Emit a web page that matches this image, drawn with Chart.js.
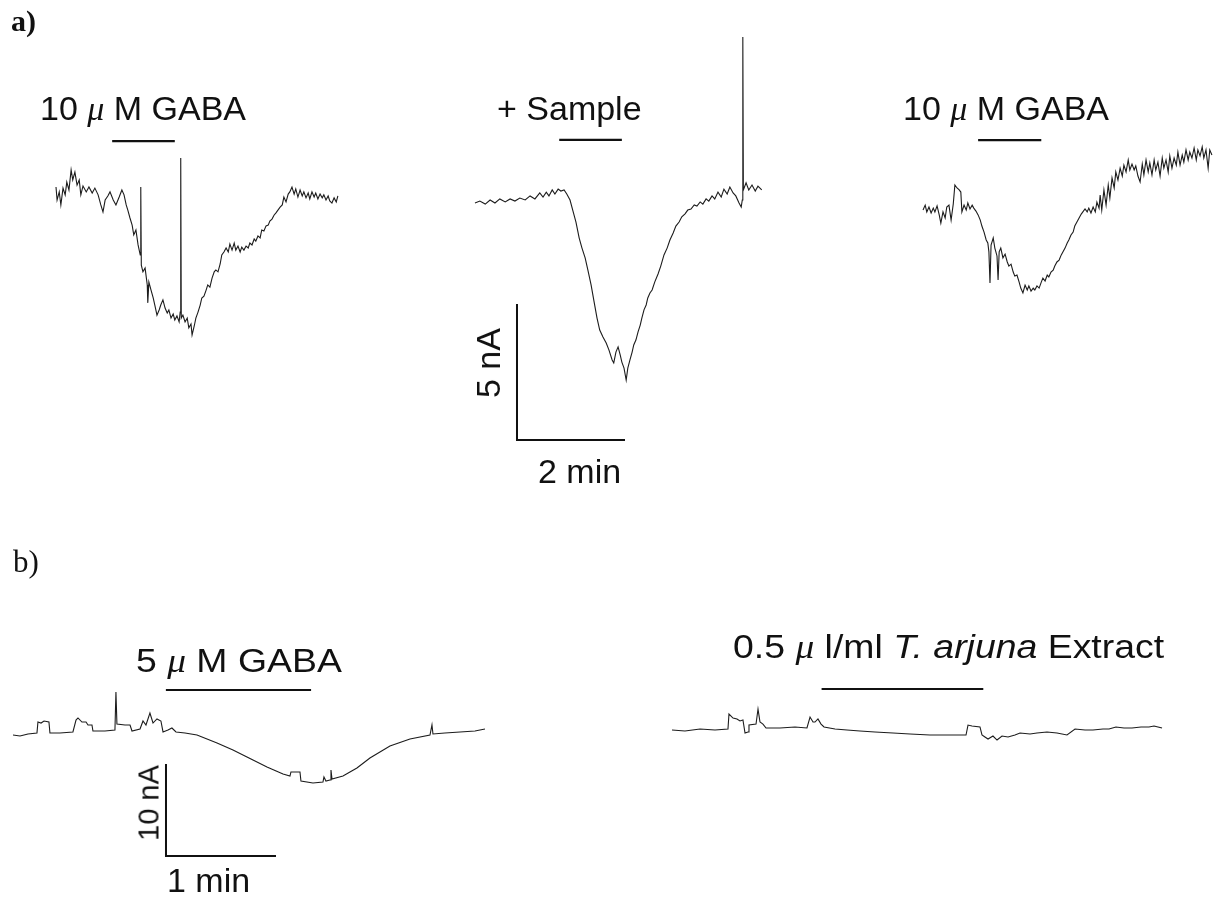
<!DOCTYPE html>
<html>
<head>
<meta charset="utf-8">
<script src="https://cdn.jsdelivr.net/npm/chart.js@4.4.1/dist/chart.umd.min.js"></script>
<style>
  body { margin: 0; background: #fff; }
  #wrap { position: relative; width: 1224px; height: 897px; }
  #chart { position: absolute; left: 0; top: 0; }
  .lbl { position: absolute; font-family: "Liberation Sans", Arial, sans-serif; font-size: 34px; line-height: 1; white-space: nowrap; color: #111; }
  .wide { transform: scaleX(1.1); transform-origin: left center; }
  .mu { font-family: "Liberation Serif", serif; font-style: italic; }
  .panel { position: absolute; font-family: "Liberation Serif", "Times New Roman", serif; line-height: 1; color: #111; }
  .rot { transform: translate(-50%, -50%) rotate(-90deg); }
</style>
</head>
<body>
<div id="wrap">
  <canvas id="chart" width="1224" height="897"></canvas>
  <div class="panel" style="left:11px;top:6px;font-size:30px;font-weight:bold">a)</div>
  <div class="panel" style="left:13px;top:546px;font-size:31px">b)</div>
  <div class="lbl" style="left:40px;top:91px">10 <span class="mu">μ</span> M GABA</div>
  <div class="lbl" style="left:497px;top:91px">+ Sample</div>
  <div class="lbl" style="left:903px;top:91px">10 <span class="mu">μ</span> M GABA</div>
  <div class="lbl rot" style="left:488px;top:363px">5 nA</div>
  <div class="lbl" style="left:538px;top:454px">2 min</div>
  <div class="lbl wide" style="left:136px;top:643px">5 <span class="mu">μ</span> M GABA</div>
  <div class="lbl wide" style="left:733px;top:629px">0.5 <span class="mu">μ</span> l/ml <i>T. arjuna</i> Extract</div>
  <div class="lbl rot" style="left:149px;top:803px;font-size:29px">10 nA</div>
  <div class="lbl" style="left:167px;top:863px">1 min</div>
</div>
<script>
// recordings: [time from trace start (min), current relative to baseline (nA)]
var gaba10a = [[0,0.11],[0.02,-0.37],[0.06,-0.07],[0.09,-0.55],[0.13,0.07],[0.17,-0.18],[0.20,0.29],[0.24,0],[0.28,0.74],[0.31,0.37],[0.35,0.66],[0.39,0.18],[0.43,0.37],[0.46,-0.18],[0.50,0.15],[0.56,-0.07],[0.61,0.11],[0.67,-0.11],[0.72,0.07],[0.78,-0.18],[0.83,-0.55],[0.87,-0.81],[0.91,-0.37],[0.96,-0.22],[1.00,-0.07],[1.06,-0.37],[1.11,-0.55],[1.17,-0.26],[1.22,0],[1.26,-0.18],[1.30,-0.55],[1.33,-0.74],[1.37,-1.03],[1.41,-1.29],[1.44,-1.65],[1.48,-1.47],[1.52,-2.02],[1.56,-2.39],[1.57,0.11],[1.58,-2.76],[1.61,-3.01],[1.65,-2.87],[1.69,-3.49],[1.70,-4.15],[1.72,-3.38],[1.76,-3.68],[1.80,-3.97],[1.83,-4.23],[1.87,-4.60],[1.91,-4.41],[1.94,-4.23],[1.98,-4.04],[2.02,-4.34],[2.06,-4.52],[2.09,-4.41],[2.13,-4.71],[2.17,-4.56],[2.20,-4.78],[2.24,-4.63],[2.28,-4.85],[2.30,-4.49],[2.31,1.18],[2.32,-4.71],[2.35,-4.60],[2.39,-4.85],[2.43,-4.71],[2.46,-5.07],[2.50,-4.93],[2.52,-5.33],[2.56,-5.00],[2.59,-4.71],[2.63,-4.49],[2.67,-4.23],[2.70,-3.97],[2.74,-3.90],[2.78,-3.68],[2.81,-3.49],[2.85,-3.57],[2.89,-3.24],[2.93,-3.01],[2.96,-2.94],[3.00,-3.01],[3.04,-2.72],[3.07,-2.39],[3.11,-2.28],[3.15,-2.13],[3.19,-2.28],[3.22,-1.99],[3.26,-2.21],[3.30,-1.95],[3.33,-2.21],[3.37,-2.06],[3.41,-2.28],[3.44,-2.10],[3.48,-2.21],[3.52,-2.06],[3.56,-2.13],[3.59,-1.95],[3.63,-2.02],[3.67,-1.80],[3.70,-1.88],[3.74,-1.69],[3.78,-1.76],[3.81,-1.47],[3.85,-1.51],[3.89,-1.32],[3.93,-1.29],[3.96,-1.14],[4.00,-1.07],[4.04,-0.92],[4.07,-0.85],[4.11,-0.74],[4.15,-0.63],[4.19,-0.55],[4.22,-0.26],[4.26,-0.44],[4.30,-0.15],[4.33,-0.07],[4.37,0.11],[4.41,-0.15],[4.44,0.04],[4.48,-0.26],[4.52,0],[4.56,-0.22],[4.59,-0.07],[4.63,-0.29],[4.67,-0.11],[4.70,-0.33],[4.74,-0.07],[4.78,-0.26],[4.81,-0.11],[4.85,-0.33],[4.89,-0.15],[4.93,-0.29],[4.96,-0.18],[5.00,-0.37],[5.04,-0.22],[5.07,-0.40],[5.11,-0.48],[5.15,-0.29],[5.19,-0.44],[5.22,-0.22]];

var sample = [[0,0],[0.09,0.07],[0.19,-0.04],[0.28,0.11],[0.37,0],[0.46,0.15],[0.56,0.04],[0.65,0.15],[0.74,0.07],[0.83,0.18],[0.93,0.11],[1.02,0.26],[1.11,0.15],[1.20,0.37],[1.26,0.22],[1.32,0.40],[1.37,0.26],[1.43,0.48],[1.48,0.33],[1.54,0.51],[1.59,0.44],[1.65,0.48],[1.70,0.33],[1.76,0.11],[1.81,-0.26],[1.87,-0.70],[1.93,-1.29],[1.98,-1.65],[2.04,-2.02],[2.09,-2.46],[2.15,-3.01],[2.20,-3.57],[2.26,-4.23],[2.31,-4.67],[2.37,-4.93],[2.43,-5.15],[2.48,-5.40],[2.54,-5.77],[2.57,-5.88],[2.61,-5.48],[2.65,-5.29],[2.69,-5.59],[2.72,-5.85],[2.76,-6.07],[2.80,-6.51],[2.83,-6.07],[2.87,-5.77],[2.91,-5.48],[2.94,-5.22],[2.98,-5.04],[3.02,-4.74],[3.06,-4.49],[3.09,-4.23],[3.13,-3.93],[3.17,-3.75],[3.20,-3.49],[3.24,-3.31],[3.28,-3.20],[3.33,-2.90],[3.39,-2.61],[3.44,-2.32],[3.50,-1.91],[3.56,-1.65],[3.61,-1.36],[3.67,-1.10],[3.72,-0.85],[3.78,-0.70],[3.83,-0.51],[3.89,-0.40],[3.94,-0.26],[4.00,-0.22],[4.06,-0.07],[4.11,-0.11],[4.17,0.04],[4.22,-0.04],[4.28,0.15],[4.33,0.07],[4.39,0.26],[4.44,0.15],[4.50,0.40],[4.56,0.22],[4.61,0.51],[4.67,0.33],[4.72,0.59],[4.78,0.37],[4.83,0.26],[4.89,0],[4.93,-0.15],[4.95,0.11],[4.96,6.10],[4.97,0.48],[5.02,0.74],[5.07,0.48],[5.13,0.66],[5.19,0.44],[5.24,0.62],[5.31,0.48]];

var gaba10b = [[0,0],[0.04,0.18],[0.07,-0.07],[0.11,0.11],[0.15,-0.11],[0.19,0.07],[0.22,-0.07],[0.26,0.15],[0.30,-0.18],[0.33,-0.48],[0.37,-0.07],[0.41,-0.29],[0.44,0.11],[0.48,0.18],[0.52,-0.37],[0.56,0.22],[0.59,0.92],[0.63,0.81],[0.67,0.74],[0.70,0.66],[0.72,-0.07],[0.76,0.18],[0.80,0],[0.83,0.26],[0.87,0.04],[0.91,0.18],[0.94,0.07],[0.98,-0.04],[1.02,-0.18],[1.06,-0.37],[1.09,-0.59],[1.13,-0.81],[1.17,-1.10],[1.20,-1.21],[1.22,-1.54],[1.24,-2.68],[1.26,-1.29],[1.30,-1.03],[1.33,-1.40],[1.37,-1.69],[1.39,-2.57],[1.41,-1.54],[1.44,-1.40],[1.48,-1.76],[1.52,-1.62],[1.56,-1.91],[1.59,-2.06],[1.63,-1.99],[1.67,-2.28],[1.70,-2.43],[1.74,-2.39],[1.78,-2.65],[1.81,-2.87],[1.85,-3.05],[1.89,-2.76],[1.93,-2.94],[1.96,-2.79],[2.00,-2.98],[2.04,-2.87],[2.07,-2.94],[2.11,-2.79],[2.15,-2.87],[2.19,-2.65],[2.22,-2.50],[2.26,-2.61],[2.30,-2.39],[2.33,-2.46],[2.37,-2.28],[2.41,-2.21],[2.44,-2.06],[2.48,-1.91],[2.52,-1.84],[2.56,-1.65],[2.59,-1.54],[2.63,-1.40],[2.67,-1.21],[2.70,-1.10],[2.74,-0.92],[2.78,-0.81],[2.81,-0.59],[2.85,-0.44],[2.89,-0.29],[2.93,-0.15],[2.96,-0.07],[3.00,0.04],[3.04,-0.07],[3.07,0.07],[3.11,-0.11],[3.15,0.11],[3.19,-0.07],[3.22,0.29],[3.26,0.07],[3.28,0.55],[3.31,0],[3.35,0.74],[3.39,0.18],[3.43,0.92],[3.46,0.44],[3.50,1.18],[3.54,0.81],[3.57,1.40],[3.61,1.10],[3.65,1.54],[3.69,1.25],[3.72,1.65],[3.76,1.40],[3.80,1.84],[3.83,1.47],[3.87,1.69],[3.91,1.47],[3.94,1.62],[3.98,1.25],[4.02,1.03],[4.06,1.69],[4.09,1.29],[4.13,1.84],[4.17,1.40],[4.20,1.73],[4.24,1.29],[4.28,1.84],[4.31,1.47],[4.35,1.76],[4.39,1.25],[4.43,1.91],[4.46,1.54],[4.50,1.84],[4.54,1.40],[4.57,1.99],[4.61,1.54],[4.65,1.91],[4.69,1.65],[4.72,2.13],[4.76,1.65],[4.80,2.02],[4.83,1.76],[4.87,2.21],[4.91,1.84],[4.94,2.13],[4.98,1.91],[5.02,2.28],[5.06,1.84],[5.09,2.21],[5.13,1.99],[5.17,2.32],[5.20,1.91],[5.24,2.21],[5.28,1.54],[5.31,2.21],[5.35,2.02]];

var gaba5 = [[0,0],[0.064,-0.11],[0.136,0.11],[0.218,0.22],[0.227,1.41],[0.255,1.30],[0.282,1.52],[0.327,1.41],[0.336,0.22],[0.427,0.22],[0.545,0.33],[0.573,1.63],[0.591,1.85],[0.627,1.41],[0.664,1.41],[0.682,1.09],[0.718,1.09],[0.727,0.43],[0.836,0.43],[0.927,0.54],[0.936,4.67],[0.945,1.20],[1.018,1.09],[1.064,1.09],[1.082,0.43],[1.155,0.65],[1.182,1.52],[1.209,1.09],[1.245,2.39],[1.273,1.30],[1.309,1.74],[1.345,1.52],[1.364,0.33],[1.409,0.54],[1.445,0.76],[1.482,0.33],[1.564,0.22],[1.673,0],[1.764,-0.43],[1.855,-0.87],[2.000,-1.63],[2.109,-2.28],[2.182,-2.72],[2.309,-3.48],[2.455,-4.24],[2.518,-4.46],[2.527,-4.02],[2.609,-4.02],[2.618,-5.00],[2.727,-5.22],[2.818,-5.11],[2.827,-4.57],[2.845,-5.00],[2.882,-4.89],[2.891,-3.80],[2.900,-4.78],[3.000,-4.46],[3.127,-3.59],[3.245,-2.50],[3.427,-1.20],[3.609,-0.43],[3.791,0],[3.809,1.09],[3.818,0.11],[3.927,0.22],[4.064,0.33],[4.200,0.43],[4.291,0.65]];

var arjuna = [[0,0],[0.118,-0.11],[0.255,0.11],[0.391,0],[0.509,0.11],[0.518,1.74],[0.555,1.30],[0.591,1.20],[0.618,0.98],[0.645,1.09],[0.664,-0.33],[0.691,-0.22],[0.700,0.54],[0.764,0.65],[0.782,2.28],[0.800,0.87],[0.827,0.65],[0.855,0.22],[0.982,0.22],[1.118,0.33],[1.227,0.22],[1.255,1.41],[1.282,0.87],[1.300,0.87],[1.327,1.20],[1.355,0.65],[1.382,0.33],[1.482,0.11],[1.591,0],[1.709,-0.11],[1.845,-0.22],[2.009,-0.33],[2.164,-0.43],[2.345,-0.54],[2.500,-0.54],[2.618,-0.54],[2.673,-0.54],[2.691,0.54],[2.727,0.43],[2.800,0.33],[2.818,-0.54],[2.845,-0.76],[2.873,-0.98],[2.918,-0.65],[2.955,-1.09],[3.000,-0.65],[3.055,-0.76],[3.118,-0.54],[3.164,-0.33],[3.255,-0.43],[3.318,-0.33],[3.409,-0.22],[3.500,-0.33],[3.591,-0.54],[3.664,0.11],[3.755,0],[3.827,0],[3.918,0.11],[3.973,0.11],[4.036,0.33],[4.109,0.22],[4.182,0.22],[4.264,0.33],[4.336,0.33],[4.382,0.43],[4.455,0.22]];

// application periods (min from trace start)
var applyA = [[1.04, 2.20], [1.56, 2.72], [1.02, 2.19]];
var applyB = [[1.39, 2.71], [1.36, 2.83]];

// calibration bars: [min, nA]
var calA = [2, 5];
var calB = [1, 10];

// layout: trace origins (min, nA) on each panel's axes, bar levels above baseline (nA)
var W = 1224, H = 897;
var pxPerMinA = 54, pxPerNaA = 27.2;
var pxPerMinB = 110, pxPerNaB = 9.2;
var originA = [[1.037, -6.985], [8.796, -7.463], [17.093, -7.721]];
var originB = [[0.118, -79.89], [6.109, -79.35]];
var barLiftA = [1.80, 2.32, 2.57];
var barLiftB = [4.89, 4.46];
var calPosA = [9.574, -16.18];
var calPosB = [1.509, -93.04];

function seg(points, ax, width, color) {
    return {
        data: points,
        xAxisID: 'x' + ax,
        yAxisID: 'y' + ax,
        borderColor: color || '#111',
        borderWidth: width,
        pointRadius: 0,
        fill: false,
        tension: 0
    };
}

function trace(rec, origin, ax) {
    var pts = rec.map(function (p) {
        return {x: origin[0] + p[0], y: origin[1] + p[1]};
    });
    return seg(pts, ax, 1.1, '#1c1c1c');
}

var datasets = [];
[gaba10a, sample, gaba10b].forEach(function (rec, i) {
    datasets.push(trace(rec, originA[i], 'a'));
    var o = originA[i], b = applyA[i];
    datasets.push(seg([{x: o[0] + b[0], y: o[1] + barLiftA[i]}, {x: o[0] + b[1], y: o[1] + barLiftA[i]}], 'a', 2.2));
});
[gaba5, arjuna].forEach(function (rec, i) {
    datasets.push(trace(rec, originB[i], 'b'));
    var o = originB[i], b = applyB[i];
    datasets.push(seg([{x: o[0] + b[0], y: o[1] + barLiftB[i]}, {x: o[0] + b[1], y: o[1] + barLiftB[i]}], 'b', 2.2));
});

// scale bars
datasets.push(seg([
    {x: calPosA[0], y: calPosA[1] + calA[1]},
    {x: calPosA[0], y: calPosA[1]},
    {x: calPosA[0] + calA[0], y: calPosA[1]}
], 'a', 2));
datasets.push(seg([
    {x: calPosB[0], y: calPosB[1] + calB[1]},
    {x: calPosB[0], y: calPosB[1]},
    {x: calPosB[0] + calB[0], y: calPosB[1]}
], 'b', 2));

var ctx = document.getElementById('chart').getContext('2d');
var chart = new Chart(ctx, {
    type: 'line',
    data: {datasets: datasets},
    options: {
        responsive: false,
        animation: false,
        layout: {padding: 0},
        plugins: {legend: {display: false}, tooltip: {enabled: false}},
        elements: {line: {borderJoinStyle: 'miter', borderCapStyle: 'butt'}},
        scales: {
            xa: {axis: 'x', type: 'linear', display: false, min: 0, max: W / pxPerMinA},
            ya: {axis: 'y', type: 'linear', display: false, min: -H / pxPerNaA, max: 0},
            xb: {axis: 'x', type: 'linear', display: false, min: 0, max: W / pxPerMinB},
            yb: {axis: 'y', type: 'linear', display: false, min: -H / pxPerNaB, max: 0}
        }
    }
});
</script>
</body>
</html>
